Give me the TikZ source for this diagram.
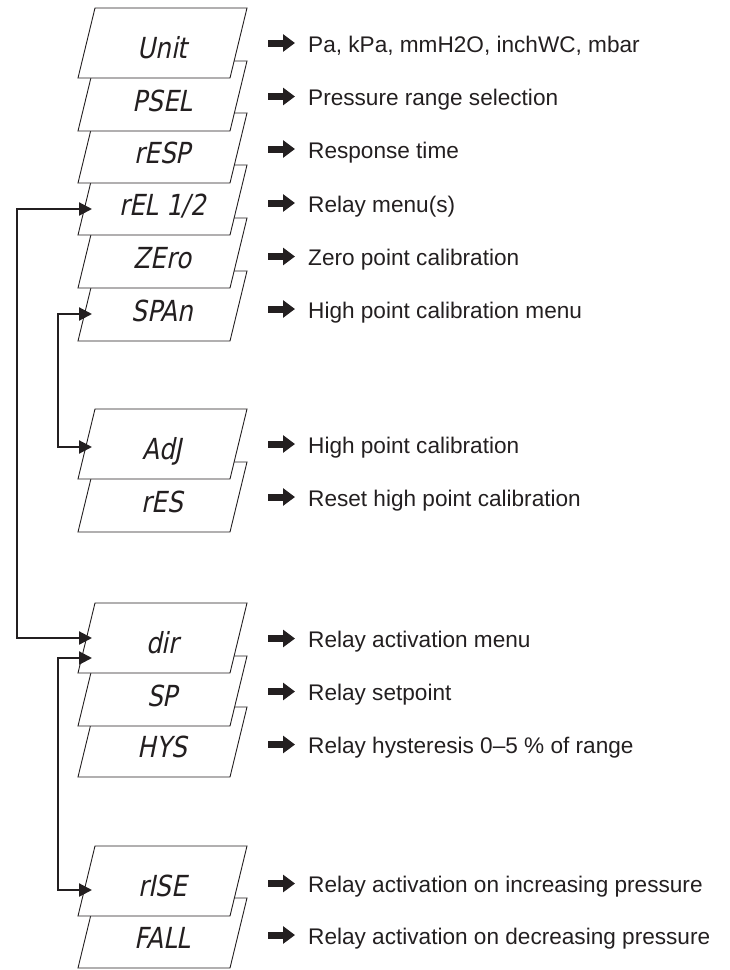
\documentclass[tikz,border=0pt]{standalone}
\usepackage{fontspec}
\setmainfont{Liberation Sans}
\newfontfamily\lcdfont[FakeSlant=0.2,FakeStretch=0.85]{DejaVu Sans}
\usepackage{xcolor}
\definecolor{ink}{RGB}{35,31,32}
\usepackage{tikz}
\usetikzlibrary{arrows.meta,calc}
\tikzset{
  card/.style={draw=ink, line width=0.9pt, fill=white},
  lcd/.style={font=\lcdfont\fontsize{29}{29}\selectfont, text=ink,
              inner sep=0pt, text height=21pt, text depth=0pt},
  desc/.style={font=\fontsize{22.6}{26}\selectfont, text=ink,
               anchor=base west, inner sep=0pt},
  pointer/.style={draw=ink, line width=7pt,
                  -{Triangle[length=12pt,width=17pt]}, shorten >=13pt},
  link/.style={draw=ink, line width=2.2pt,
               {Triangle[length=13pt,width=13pt]}-{Triangle[length=13pt,width=13pt]}},
}
% display card: name, top edge, display text
\newcommand\menucard[3]{%
  \draw[card] (95,#2) -- (247,#2) -- (230,#2+70) -- (78,#2+70) -- cycle;
  \node[lcd] (#1) at (162.5,#2+40) {#3};}
% arrow and explanation: name, mid height, text
\newcommand\menudesc[3]{%
  \node[desc] (#1) at (308,#2+8) {#3};
  \coordinate (#1a) at (268,#2-1);
  \draw[pointer] (#1a) -- (#1a -| #1.west);}

\begin{document}
\begin{tikzpicture}[x=1pt,y=-1pt]
\useasboundingbox (0,0) rectangle (729,970);

% cards, lowest first so the upper ones overlap
\menucard{fall}{898}{FALL}
\menucard{rise}{846}{rISE}
\menucard{hys}{707}{HYS}
\menucard{sp}{656}{SP}
\menucard{dir}{603}{dir}
\menucard{res}{462}{rES}
\menucard{adj}{409}{AdJ}
\menucard{span}{271}{SPAn}
\menucard{zero}{218}{ZEro}
\menucard{rel}{165}{rEL 1/2}
\menucard{resp}{113}{rESP}
\menucard{psel}{61}{PSEL}
\menucard{unit}{8}{Unit}

\menudesc{unitd}{44}{Pa, kPa, mmH2O, inchWC, mbar}
\menudesc{pseld}{97.5}{Pressure range selection}
\menudesc{respd}{150}{Response time}
\menudesc{reld}{204}{Relay menu(s)}
\menudesc{zerod}{257.5}{Zero point calibration}
\menudesc{spand}{310}{High point calibration menu}
\menudesc{adjd}{445}{High point calibration}
\menudesc{resd}{498}{Reset high point calibration}
\menudesc{dird}{639.5}{Relay activation menu}
\menudesc{spd}{692.5}{Relay setpoint}
\menudesc{hysd}{745.5}{Relay hysteresis 0–5 \% of range}
\menudesc{rised}{884.5}{Relay activation on increasing pressure}
\menudesc{falld}{936}{Relay activation on decreasing pressure}

% submenu links
\coordinate (relin) at (92,209);
\coordinate (dirin) at (92,638);
\coordinate (spanin) at (92,314);
\coordinate (adjin) at (92,447);
\coordinate (dirlo) at (92,658);
\coordinate (risein) at (92,890);
\draw[link] (relin) -- ++(-75,0) |- (dirin);
\draw[link] (spanin) -- ++(-34,0) |- (adjin);
\draw[link] (dirlo) -- ++(-34,0) |- (risein);
\end{tikzpicture}
\end{document}
